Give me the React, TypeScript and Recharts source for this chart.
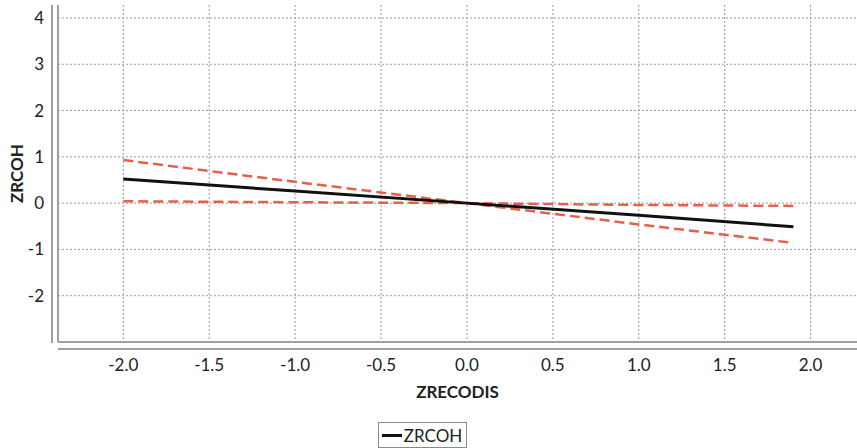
import { LineChart, Line, XAxis, YAxis, CartesianGrid, Legend } from 'recharts';

const xValues = [-2.0, -1.0, 0.0, 1.0, 1.9];
const fitValues = [0.52, 0.26, 0.0, -0.26, -0.51];
const bandSteep = [0.93, 0.46, 0.0, -0.46, -0.86];
const bandFlat = [0.04, 0.02, 0.0, -0.04, -0.06];

const xTicks = [-2.0, -1.5, -1.0, -0.5, 0.0, 0.5, 1.0, 1.5, 2.0];
const yTicks = [-2, -1, 0, 1, 2, 3, 4];

const data = xValues.map((x, i) => ({
  x,
  ZRCOH: fitValues[i],
  steep: bandSteep[i],
  flat: bandFlat[i],
}));

const FONT = 'Lato, "Open Sans", sans-serif';
const AXIS_GRAY = '#a0a0a0';

function LegendBox() {
  return (
    <div
      style={{
        display: 'inline-flex',
        alignItems: 'center',
        border: '1.5px solid #8a8a8a',
        padding: '0px 4px 0px 3px',
        height: 24,
        fontFamily: FONT,
        fontSize: 17,
        color: '#222',
        background: '#fff',
      }}
    >
      <span style={{ display: 'inline-block', width: 20, height: 3, background: '#111', marginRight: 2 }} />
      ZRCOH
    </div>
  );
}

export default function App() {
  return (
    <div style={{ position: 'absolute', left: 0, top: 0, width: 857, height: 448, background: '#fff' }}>
      <LineChart width={857} height={448} data={data} margin={{ top: 5, right: 0, bottom: 0, left: 0 }}>
        <CartesianGrid stroke="#999" strokeDasharray="2 2" horizontalValues={yTicks} verticalValues={xTicks} />
        <XAxis
          dataKey="x"
          type="number"
          domain={[-2.38, 2.27]}
          ticks={xTicks}
          tickFormatter={(v: number) => v.toFixed(1)}
          tickLine={false}
          axisLine={{ stroke: AXIS_GRAY, strokeWidth: 2 }}
          tickMargin={11}
          tick={{ fill: '#222', fontSize: 17, fontFamily: FONT }}
          height={80}
          label={{
            value: 'ZRECODIS',
            position: 'insideTop',
            offset: 44,
            style: { fill: '#222', fontSize: 17, fontWeight: 700, fontFamily: FONT },
          }}
        />
        <YAxis
          type="number"
          domain={[-3, 4.28]}
          ticks={yTicks}
          tickLine={false}
          axisLine={{ stroke: AXIS_GRAY, strokeWidth: 2 }}
          tickMargin={8}
          tick={{ fill: '#222', fontSize: 17, fontFamily: FONT }}
          width={58}
          label={{
            value: 'ZRCOH',
            angle: -90,
            position: 'insideLeft',
            offset: 17,
            style: { fill: '#222', fontSize: 17, fontWeight: 700, fontFamily: FONT, textAnchor: 'middle' },
          }}
        />
        <Legend verticalAlign="bottom" height={26} content={() => <div style={{ textAlign: 'center', paddingRight: 12 }}><LegendBox /></div>} />
        <Line
          dataKey="steep"
          stroke="#e5604c"
          strokeWidth={2.5}
          strokeDasharray="10 5"
          dot={false}
          legendType="none"
          isAnimationActive={false}
        />
        <Line
          dataKey="flat"
          stroke="#e5604c"
          strokeWidth={2.5}
          strokeDasharray="10 5"
          dot={false}
          legendType="none"
          isAnimationActive={false}
        />
        <Line dataKey="ZRCOH" stroke="#111" strokeWidth={3} dot={false} isAnimationActive={false} />
      </LineChart>
      <div style={{ position: 'absolute', left: 51, top: 5, width: 2, height: 338, background: AXIS_GRAY }} />
      <div style={{ position: 'absolute', left: 58, top: 348, width: 799, height: 2, background: AXIS_GRAY }} />
    </div>
  );
}
